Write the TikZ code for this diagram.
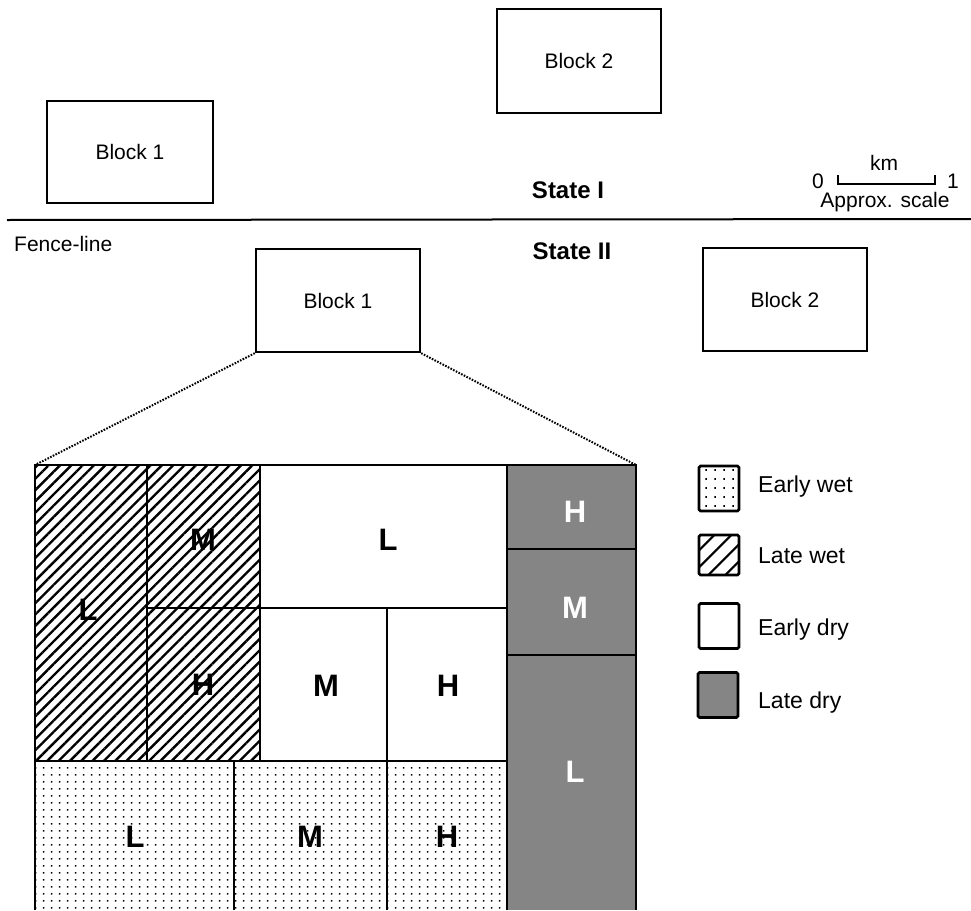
\documentclass[tikz,border=0pt]{standalone}
\usepackage{fontspec}
\setmainfont{Liberation Sans}
\usetikzlibrary{patterns.meta}
\tikzdeclarepattern{
  name=fielddots,
  type=uncolored,
  bounding box={(0pt,0pt) and (8pt,7pt)},
  tile size={(8pt,7pt)},
  code={\fill (3.2pt,2.7pt) rectangle (4.8pt,4.3pt);}
}
\tikzdeclarepattern{
  name=legenddots,
  type=uncolored,
  bounding box={(0pt,0pt) and (9pt,8.5pt)},
  tile size={(9pt,8.5pt)},
  code={\fill (3.6pt,3.35pt) rectangle (5.4pt,5.15pt);}
}
\definecolor{latedry}{gray}{0.52}
\begin{document}
\begin{tikzpicture}[x=1pt,y=-1pt,
  blockbox/.style={draw,line width=2.4pt,minimum width=164pt,minimum height=103pt,inner sep=0pt,font=\fontsize{21}{25}\selectfont},
  plain/.style={inner sep=0pt,font=\fontsize{21}{25}\selectfont},
  statelabel/.style={inner sep=0pt,font=\fontsize{24}{28}\selectfont\bfseries},
  cellletter/.style={inner sep=0pt,font=\fontsize{31}{34}\selectfont\bfseries},
  gridline/.style={line width=2.6pt},
  connector/.style={line width=2pt,dash pattern=on 1.6pt off 1.4pt},
  legbox/.style={draw,line width=2.6pt,rounded corners=1.5pt,minimum width=40pt,minimum height=45pt,inner sep=0pt},
  legtext/.style={inner sep=0pt,anchor=base west,font=\fontsize{23}{27}\selectfont},
  wethatch/.style={pattern={Lines[angle=45,distance=8pt,line width=2.4pt]}},
  wetdots/.style={pattern=fielddots},
  drylate/.style={fill=latedry}
]
\useasboundingbox (0,0) rectangle (971,910);

% ---------- State I ----------
\node[blockbox,minimum width=166pt,minimum height=102pt] (b1i) at (130,152) {Block 1};
\node[blockbox,minimum height=104pt] (b2i) at (579,61) {Block 2};
\node[statelabel] (si) at (568,190) {State I};

% scale bar
\coordinate (sbl) at (838,184);
\coordinate (sbr) at (935,184);
\draw[line width=2pt] ([yshift=9pt]sbl) -- (sbl) -- (sbr) -- ([yshift=9pt]sbr);
\node[plain] (s0) at (818,181) {0};
\node[plain] (s1) at (953,181) {1};
\node[plain] (skm) at (884,163) {km};
\node[plain] (sap) at (885,202) {Approx. scale};

% divider (fence-line)
\coordinate (fl) at (7,220);
\coordinate (fr) at (971,219);
\draw[line width=2pt] (fl) -- (fr);
\node[plain,anchor=west] (fence) at (14,244) {Fence-line};

% ---------- State II ----------
\node[statelabel] (sii) at (572,251) {State II};
\node[blockbox] (b1ii) at (338,300.5) {Block 1};
\node[blockbox] (b2ii) at (785,299.5) {Block 2};

% ---------- enlarged Block 1 ----------
\coordinate (gtl) at (35,465);
\coordinate (gtr) at (636,465);

% fills
\fill[wethatch] (35,465) rectangle (147,761);
\fill[wethatch] (147,465) rectangle (260,761);
\fill[wetdots] (35,761) rectangle (507,910);
\fill[drylate] (507,465) rectangle (636,910);

% lines
\draw[gridline] (35,910) -- (gtl) -- (gtr) -- (636,910);
\draw[gridline] (147,465) -- (147,761);
\draw[gridline] (260,465) -- (260,761);
\draw[gridline] (507,465) -- (507,910);
\draw[gridline] (147,608) -- (507,608);
\draw[gridline] (387,608) -- (387,910);
\draw[gridline] (35,761) -- (507,761);
\draw[gridline] (234,761) -- (234,910);
\draw[gridline] (507,549) -- (636,549);
\draw[gridline] (507,655) -- (636,655);

% cell letters
\node[cellletter] (wl) at (88,610) {L};
\node[cellletter] (wm) at (203,540) {M};
\node[cellletter] (wh) at (203,685) {H};
\node[cellletter] (dl) at (388,540) {L};
\node[cellletter] (dm) at (326,686) {M};
\node[cellletter] (dh) at (448,686) {H};
\node[cellletter] (el) at (135,837) {L};
\node[cellletter] (em) at (310,837) {M};
\node[cellletter] (eh) at (447,837) {H};
\node[cellletter,text=white] (lh) at (575,512) {H};
\node[cellletter,text=white] (lm) at (575,608) {M};
\node[cellletter,text=white] (ll) at (575,772) {L};

% zoom connectors
\draw[connector] (b1ii.south west) -- (gtl);
\draw[connector] (b1ii.south east) -- (gtr);

% ---------- legend ----------
\node[legbox,pattern=legenddots] (lg1) at (719,488.5) {};
\node[legbox,minimum height=40pt,pattern={Lines[angle=45,distance=12pt,line width=2.2pt]}] (lg2) at (719,555) {};
\node[legbox] (lg3) at (719,626) {};
\node[legbox,fill=latedry] (lg4) at (718,695) {};
\node[legtext] (lt1) at (758,492) {Early wet};
\node[legtext] (lt2) at (758,563) {Late wet};
\node[legtext] (lt3) at (758,635) {Early dry};
\node[legtext] (lt4) at (758,708) {Late dry};
\end{tikzpicture}
\end{document}
